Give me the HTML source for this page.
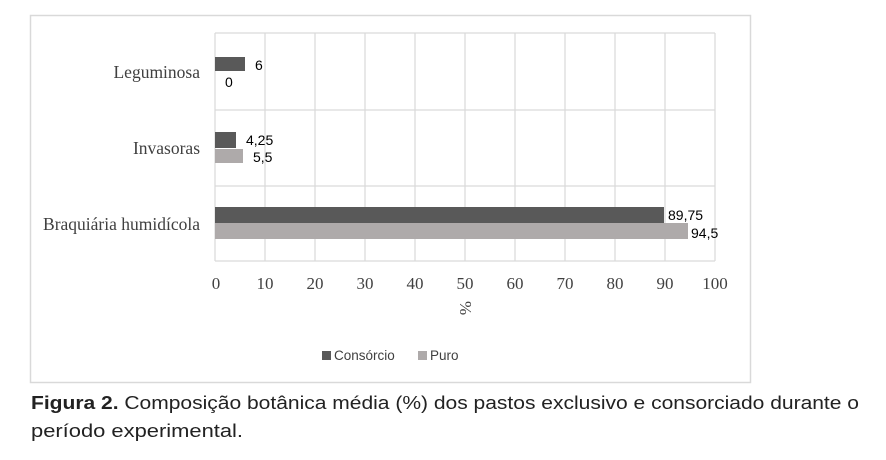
<!DOCTYPE html>
<html><head><meta charset="utf-8"><style>
html,body{margin:0;padding:0;background:#fff;width:886px;height:460px;overflow:hidden}
</style></head><body>
<svg width="886" height="460" xmlns="http://www.w3.org/2000/svg">
<rect x="30.5" y="15.5" width="720" height="367" fill="#fff" stroke="#d9d9d9" stroke-width="1.5"/>
<g stroke="#d9d9d9" stroke-width="1.2">
<line x1="215" y1="33" x2="215" y2="261"/><line x1="265" y1="33" x2="265" y2="261"/><line x1="315" y1="33" x2="315" y2="261"/><line x1="365" y1="33" x2="365" y2="261"/><line x1="415" y1="33" x2="415" y2="261"/><line x1="465" y1="33" x2="465" y2="261"/><line x1="515" y1="33" x2="515" y2="261"/><line x1="565" y1="33" x2="565" y2="261"/><line x1="615" y1="33" x2="615" y2="261"/><line x1="665" y1="33" x2="665" y2="261"/><line x1="715" y1="33" x2="715" y2="261"/>
<line x1="215" y1="33" x2="715" y2="33"/><line x1="215" y1="110" x2="715" y2="110"/><line x1="215" y1="186" x2="715" y2="186"/><line x1="215" y1="261" x2="715" y2="261"/>
</g>
<g fill="#595959">
<rect x="215" y="57" width="30" height="14"/>
<rect x="215" y="132" width="21" height="16"/>
<rect x="215" y="207" width="449" height="16"/>
</g>
<g fill="#aeaaaa">
<rect x="215" y="149" width="28" height="14"/>
<rect x="215" y="223" width="473" height="16"/>
</g>
<g font-family="Liberation Sans, sans-serif" font-size="14" fill="#000">
<text x="255" y="70">6</text><text x="225" y="87">0</text>
<text x="246" y="145">4,25</text><text x="253" y="162">5,5</text>
<text x="668" y="220">89,75</text><text x="691" y="238">94,5</text>
</g>
<g font-family="Liberation Serif, serif" font-size="17.5" fill="#404040" text-anchor="end">
<text x="200" y="78">Leguminosa</text>
<text x="200" y="154">Invasoras</text>
<text x="200" y="230">Braquiária humidícola</text>
</g>
<g font-family="Liberation Serif, serif" font-size="17" fill="#404040" text-anchor="middle">
<text x="216" y="289">0</text><text x="265" y="289">10</text><text x="315" y="289">20</text><text x="365" y="289">30</text><text x="415" y="289">40</text><text x="465" y="289">50</text><text x="515" y="289">60</text><text x="565" y="289">70</text><text x="615" y="289">80</text><text x="665" y="289">90</text><text x="715" y="289">100</text>
<text x="0" y="0" transform="translate(460,301) rotate(90)" text-anchor="start">%</text>
</g>
<rect x="322" y="351" width="9" height="9" fill="#595959"/>
<rect x="418" y="351" width="9" height="9" fill="#aeaaaa"/>
<g font-family="Liberation Sans, sans-serif" font-size="13.5" fill="#404040">
<text x="334" y="360">Consórcio</text><text x="430" y="360">Puro</text>
</g>
<g font-family="Liberation Sans, sans-serif" font-size="18" fill="#222">
<text x="31" y="409" textLength="828" lengthAdjust="spacingAndGlyphs"><tspan font-weight="bold">Figura 2.</tspan> Composição botânica média (%) dos pastos exclusivo e consorciado durante o</text>
<text x="31" y="437" textLength="212" lengthAdjust="spacingAndGlyphs">período experimental.</text>
</g>
</svg>
</body></html>
